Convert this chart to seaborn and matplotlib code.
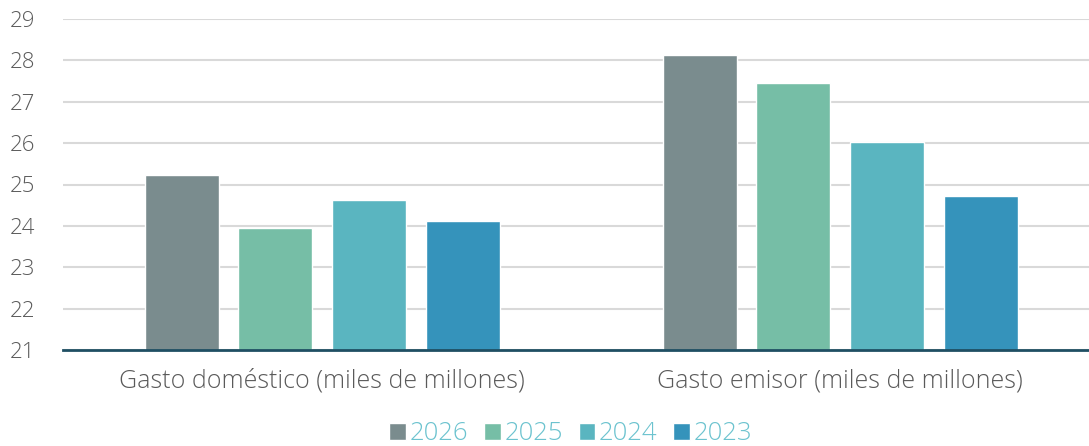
import matplotlib
matplotlib.use("Agg")
import matplotlib.pyplot as plt
import seaborn as sns
import pandas as pd

categorias = ["Gasto doméstico (miles de millones)", "Gasto emisor (miles de millones)"]
anios = ["2026", "2025", "2024", "2023"]
valores_domestico = [25.22, 23.95, 24.62, 24.12]
valores_emisor = [28.12, 27.46, 26.02, 24.73]

colores = ["#7a8c8e", "#76bea6", "#5ab5c0", "#3593bb"]

df = pd.DataFrame({
    "categoria": [categorias[0]] * 4 + [categorias[1]] * 4,
    "anio": anios * 2,
    "valor": valores_domestico + valores_emisor,
})

sns.set_theme(style="white")
plt.rcParams["font.family"] = ["Open Sans", "DejaVu Sans"]

fig = plt.figure(figsize=(10.89, 4.46), dpi=100)
ax = fig.add_axes([63 / 1089, 1 - 350 / 446, 1 - 63 / 1089, (350 - 19) / 446])

sns.barplot(
    data=df, x="categoria", y="valor", hue="anio", hue_order=anios,
    palette=colores, saturation=1, width=0.723, gap=0.21, ax=ax, legend=True,
)
for barra in ax.patches:
    barra.set_zorder(3)

ax.set_ylim(21, 29)
ax.set_xlim(-0.5, 1.48)
ax.set_yticks(range(21, 30))
ax.grid(axis="y", color="#d9d9d9", linewidth=1.5, zorder=0)
ax.set_axisbelow(True)

for lado in ["top", "right", "left"]:
    ax.spines[lado].set_visible(False)
ax.spines["bottom"].set_color("#1f4f63")
ax.spines["bottom"].set_linewidth(2)
ax.spines["bottom"].set_zorder(4)

ax.tick_params(axis="both", length=0, colors="#5a5a5a")
ax.tick_params(axis="y", labelsize=16, pad=20)
ax.tick_params(axis="x", labelsize=18, pad=13)
for t in ax.get_xticklabels() + ax.get_yticklabels():
    t.set_fontweight("light")
ax.set_xlabel("")
ax.set_ylabel("")

ley = ax.legend(
    loc="lower center", bbox_to_anchor=(0.495, -0.345), ncol=4, frameon=False,
    fontsize=18.5, handlelength=0.65, handleheight=0.65, handletextpad=0.15,
    columnspacing=0.6, borderpad=0.2,
)
for texto in ley.get_texts():
    texto.set_color("#6cc3cf")
    texto.set_fontweight("light")

fig.savefig("out.png", dpi=100, facecolor="white")
plt.close(fig)
